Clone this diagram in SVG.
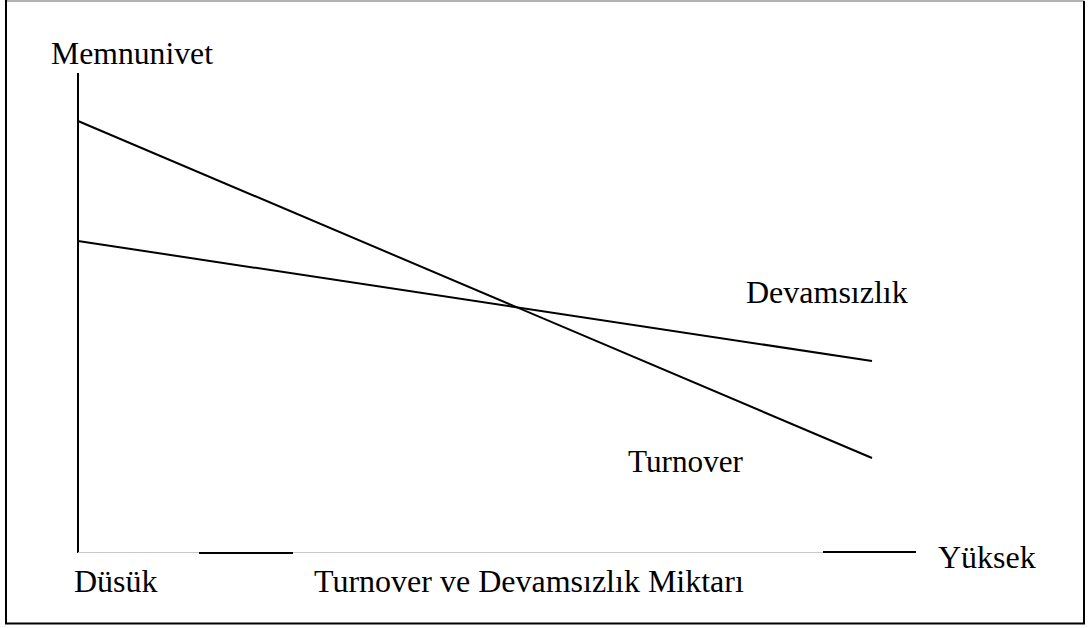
<svg xmlns="http://www.w3.org/2000/svg" width="1088" height="628" viewBox="0 0 1088 628">
<style>
.t{font-family:'Liberation Serif','DejaVu Serif',serif;font-size:32px;fill:#000}
.ln{stroke:#000;stroke-width:2;fill:none}
</style>
<rect x="0" y="0" width="1088" height="628" fill="#fff"/>
<g id="frame">
<line x1="6" y1="1" x2="1084" y2="1" stroke="#999" stroke-width="1.5"/>
<line x1="6" y1="0" x2="6" y2="624" class="ln"/>
<line x1="1084" y1="1" x2="1084" y2="624" class="ln"/>
<line x1="5" y1="623.5" x2="1085" y2="623.5" class="ln"/>
</g>
<g id="axes">
<line x1="78" y1="73" x2="78" y2="553" class="ln"/>
<line x1="78" y1="552.5" x2="823" y2="552.5" stroke="#c8c8c8" stroke-width="1"/>
<line x1="199" y1="553" x2="293" y2="553" class="ln"/>
<line x1="823" y1="552" x2="916" y2="552" class="ln"/>
</g>
<g id="connectors">
<line x1="78" y1="121" x2="872" y2="458" class="ln"/>
<line x1="78" y1="241" x2="872" y2="361" class="ln"/>
</g>
<g id="labels">
<text class="t" font-family="Liberation Serif, serif" x="51" y="64" textLength="162" lengthAdjust="spacingAndGlyphs">Memnunivet</text>
<text class="t" x="74" y="592">Düsük</text>
<text class="t" x="314" y="592">Turnover ve Devamsızlık Miktarı</text>
<text class="t" x="938" y="568">Yüksek</text>
<text class="t" x="746" y="303">Devamsızlık</text>
<text class="t" x="628" y="472" textLength="115" lengthAdjust="spacingAndGlyphs">Turnover</text>
</g>
</svg>
